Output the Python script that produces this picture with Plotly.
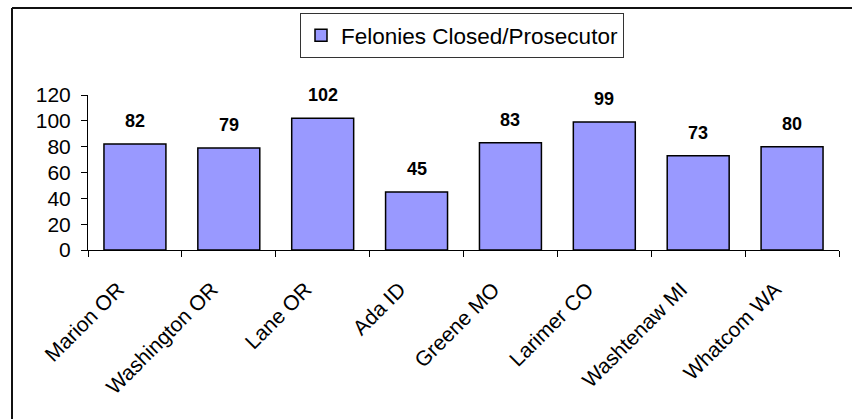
import plotly.graph_objects as go

categories = ["Marion OR", "Washington OR", "Lane OR", "Ada ID", "Greene MO",
              "Larimer CO", "Washtenaw MI", "Whatcom WA"]
values = [82, 79, 102, 45, 83, 99, 73, 80]
series_name = "Felonies Closed/Prosecutor"
y_ticks = [0, 20, 40, 60, 80, 100, 120]

FONT = "Arial, Liberation Sans, sans-serif"
W, H = 852, 419
L, R, T, B = 88, 13, 95, 169
pw = W - L - R
ph = H - T - B

fig = go.Figure()
fig.add_trace(go.Bar(
    x=categories, y=values, name=series_name,
    marker=dict(color="#9999FF", line=dict(color="#000000", width=1.5)),
    showlegend=True,
))

for c, v in zip(categories, values):
    fig.add_annotation(x=c, y=v, text="<b>" + str(v) + "</b>", showarrow=False,
                       yanchor="middle", yshift=23,
                       font=dict(family=FONT, size=18, color="#000000"),
                       xref="x", yref="y")

# outer frame (cropped on right and bottom)
fx0 = (12 - L) / pw
fy1 = (H - B - 8) / ph
fig.add_shape(type="line", xref="paper", yref="paper",
              x0=fx0, x1=1.2, y0=fy1, y1=fy1,
              line=dict(color="#111111", width=2))
fig.add_shape(type="line", xref="paper", yref="paper",
              x0=fx0, x1=fx0, y0=fy1, y1=-1.3,
              line=dict(color="#111111", width=2))

fig.update_layout(
    width=W, height=H,
    margin=dict(l=L, r=R, t=T, b=B, pad=0),
    paper_bgcolor="white", plot_bgcolor="white",
    bargap=0.34,
    font=dict(family=FONT, color="#000000"),
    legend=dict(
        x=(462 - L) / pw, xanchor="center",
        y=(H - B - 13) / ph, yanchor="top",
        orientation="h",
        bordercolor="#333333", borderwidth=1,
        bgcolor="white",
        font=dict(family=FONT, size=22.5, color="#000000"),
    ),
    xaxis=dict(
        type="category", tickangle=-45,
        tickson="boundaries", ticks="outside", ticklen=6,
        tickcolor="#000000", tickwidth=1,
        showline=True, linecolor="#000000", linewidth=1,
        showgrid=False, zeroline=False,
        tickfont=dict(family=FONT, size=21, color="#000000"),
        ticklabelstandoff=18, ticklabelshift=-17,
    ),
    yaxis=dict(
        range=[0, 120], tickvals=y_ticks,
        ticks="outside", ticklen=6, tickcolor="#000000", tickwidth=1,
        showline=True, linecolor="#000000", linewidth=1,
        showgrid=False, zeroline=False,
        tickfont=dict(family=FONT, size=21, color="#000000"),
        ticklabelstandoff=6,
    ),
)

fig.write_html("out.html", config={"displayModeBar": False},
               post_script="document.body.style.margin='0';")
